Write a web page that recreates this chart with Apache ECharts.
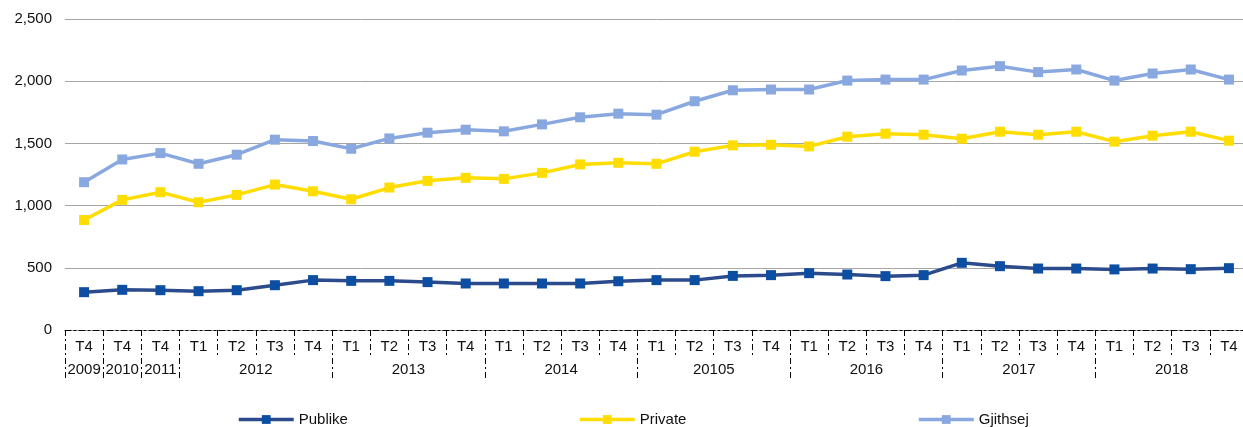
<!DOCTYPE html>
<html>
<head>
<meta charset="utf-8">
<script src="https://cdn.jsdelivr.net/npm/echarts@6/dist/echarts.min.js"></script>
<style>
  html, body { margin: 0; padding: 0; background: #fff; overflow: hidden; }
  /* plot runs a bit past the right edge of the window, like the original export */
  #chart { width: 1251px; height: 427px; }
</style>
</head>
<body>
<div id="chart"></div>
<script>
// quarters shown on the axis (first level)
const quarters = [
  "T4", "T4", "T4",
  "T1", "T2", "T3", "T4",
  "T1", "T2", "T3", "T4",
  "T1", "T2", "T3", "T4",
  "T1", "T2", "T3", "T4",
  "T1", "T2", "T3", "T4",
  "T1", "T2", "T3", "T4",
  "T1", "T2", "T3", "T4",
];
// year groups (second level) and how many quarters each covers
const years = ["2009", "2010", "2011", "2012", "2013", "2014", "20105", "2016", "2017", "2018"];
const yearSpans = [1, 1, 1, 4, 4, 4, 4, 4, 4, 4];

const publike = [
  304, 323, 320, 312, 320, 360, 401, 395, 395, 385,
  374, 374, 374, 374, 392, 401, 401, 435, 441, 457,
  446, 433, 441, 540, 513, 494, 494, 487, 494, 489, 497,
];
const privateVals = [
  884, 1046, 1108, 1027, 1086, 1169, 1115, 1051, 1145, 1199,
  1223, 1215, 1263, 1331, 1344, 1336, 1433, 1484, 1489, 1476,
  1554, 1578, 1570, 1538, 1594, 1570, 1594, 1514, 1562, 1594, 1522,
];
const gjithsej = [
  1188, 1371, 1422, 1336, 1409, 1530, 1519, 1457, 1540, 1586,
  1610, 1597, 1653, 1710, 1739, 1731, 1839, 1927, 1933, 1933,
  2005, 2013, 2013, 2086, 2121, 2073, 2094, 2005, 2062, 2094, 2013,
];

const yTicks = { min: 0, max: 2500, interval: 500 };

// second level axis: half-step points so year labels can sit between quarters
const halfPoints = quarters.length * 2 + 1;
const yearLabels = new Array(halfPoints).fill("");
const yearBounds = [0];
let acc = 0;
yearSpans.forEach((span, i) => {
  yearLabels[acc * 2 + span] = years[i];
  acc += span;
  yearBounds.push(acc * 2);
});

const dashDot = [6, 3, 2, 3];
const font = "Liberation Sans, Arial, sans-serif";

const chart = echarts.init(document.getElementById("chart"));

const option = {
  animation: false,
  textStyle: { fontFamily: font },
  grid: { left: 65, right: 0, top: 19, bottom: 97 },
  legend: [
    { data: ["Publike"], left: 232 },
    { data: ["Private"], left: 573 },
    { data: ["Gjithsej"], left: 912 },
  ].map((l) => ({
    ...l,
    top: 407,
    itemWidth: 55,
    itemHeight: 11,
    itemGap: 5,
    lineStyle: { width: 3.5 },
    textStyle: { fontSize: 15, color: "#111", fontFamily: font },
  })),
  xAxis: [
    {
      type: "category",
      data: quarters,
      boundaryGap: true,
      axisLine: { lineStyle: { color: "#000", width: 1, type: dashDot } },
      axisTick: {
        show: true,
        interval: 0,
        length: 25,
        lineStyle: { color: "#000", width: 1, type: dashDot },
      },
      axisLabel: { interval: 0, margin: 9, fontSize: 15, color: "#111" },
      splitLine: { show: false },
    },
    {
      type: "category",
      data: yearLabels,
      boundaryGap: false,
      position: "bottom",
      axisLine: { show: false },
      axisTick: {
        show: true,
        interval: (idx) => yearBounds.includes(idx),
        length: 50,
        lineStyle: { color: "#000", width: 1, type: dashDot },
      },
      axisLabel: {
        interval: 0,
        margin: 32,
        fontSize: 15,
        color: "#111",
        showMinLabel: true,
        showMaxLabel: true,
      },
      splitLine: { show: false },
    },
  ],
  yAxis: {
    type: "value",
    min: yTicks.min,
    max: yTicks.max,
    interval: yTicks.interval,
    axisLine: { show: false },
    axisTick: { show: false },
    axisLabel: {
      margin: 13,
      fontSize: 15,
      color: "#111",
      formatter: (v) => v.toLocaleString("en-US"),
    },
    splitLine: { lineStyle: { color: "#a6a6a6", width: 1 } },
  },
  series: [
    {
      name: "Publike",
      type: "line",
      data: publike,
      symbol: "rect",
      symbolSize: 10,
      lineStyle: { color: "#2c4b8c", width: 3.5 },
      itemStyle: { color: "#0b4ea2" },
    },
    {
      name: "Private",
      type: "line",
      data: privateVals,
      symbol: "rect",
      symbolSize: 10,
      lineStyle: { color: "#ffdd00", width: 3.5 },
      itemStyle: { color: "#ffdd00" },
    },
    {
      name: "Gjithsej",
      type: "line",
      data: gjithsej,
      symbol: "rect",
      symbolSize: 10,
      lineStyle: { color: "#8aa8e0", width: 3.5 },
      itemStyle: { color: "#8aa8e0" },
    },
  ],
};

chart.setOption(option);
</script>
</body>
</html>
